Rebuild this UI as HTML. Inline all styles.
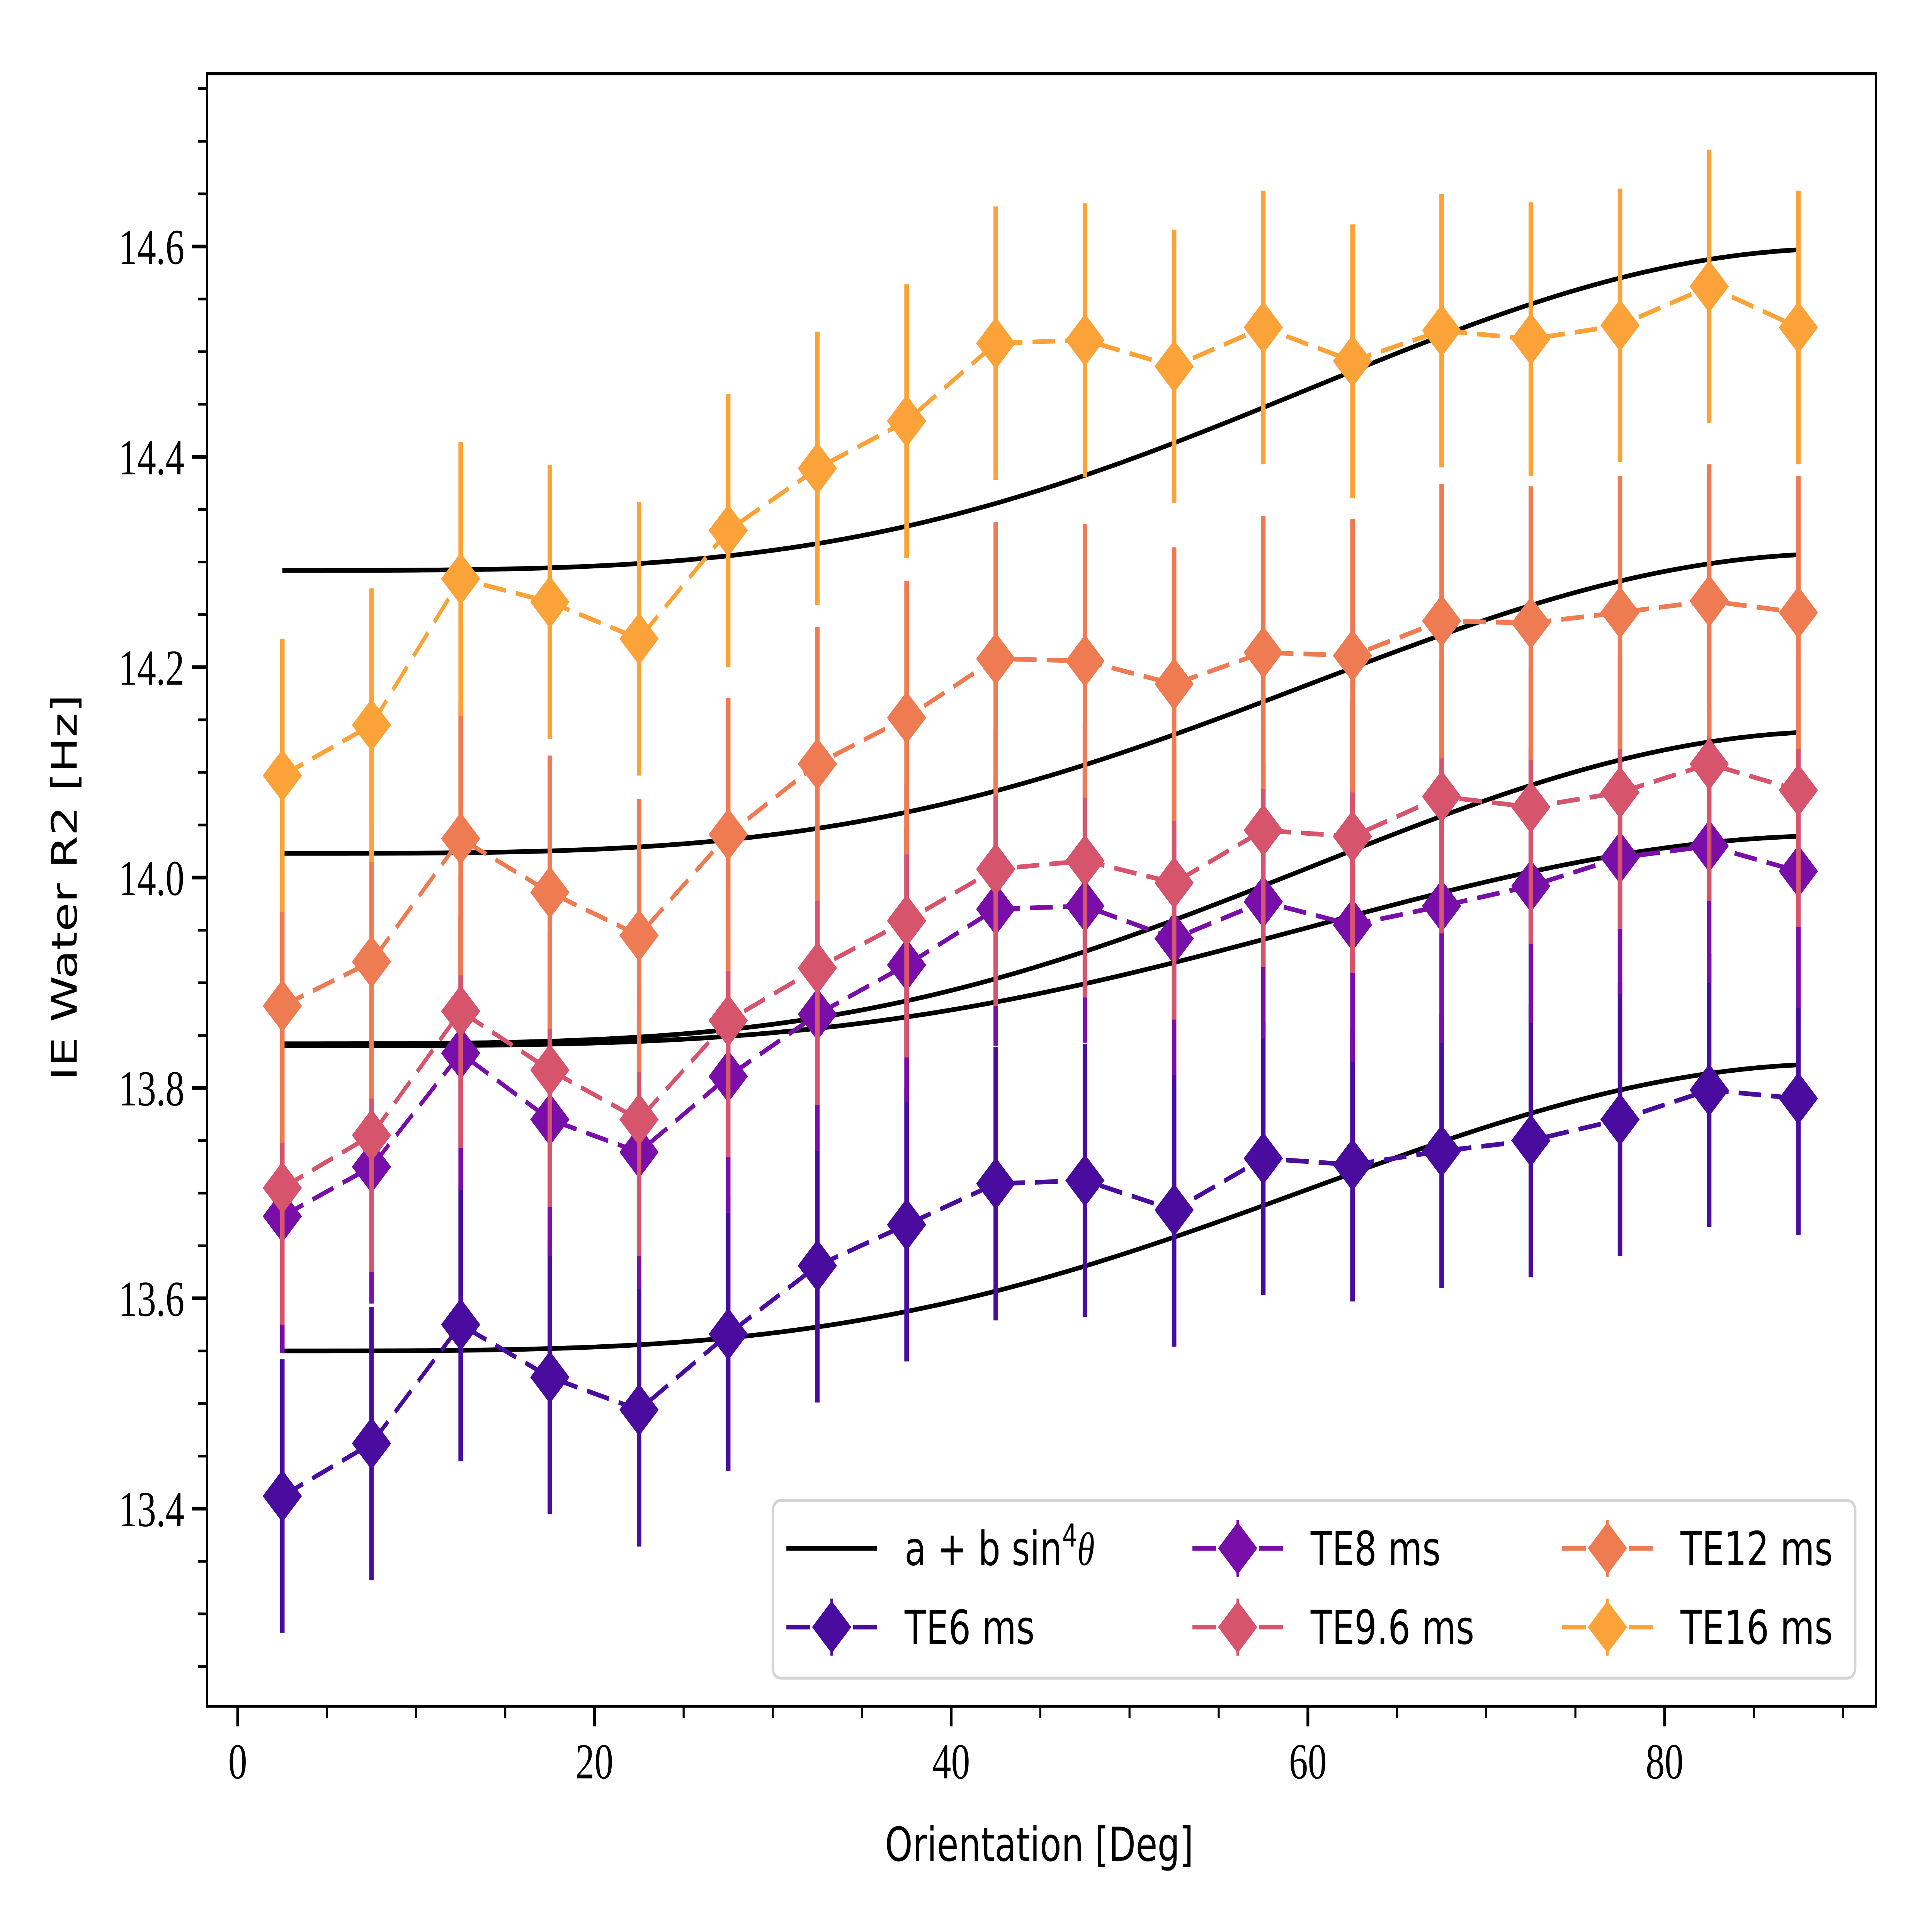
<!DOCTYPE html>
<html><head><meta charset="utf-8"><style>
html,body{margin:0;padding:0;background:#fff;overflow:hidden;width:100%;height:100%;}
svg{display:block;width:100vw;height:100vh;}
.tk{font-family:"Liberation Serif",serif;font-size:150px;fill:#000;}
.sn{font-family:"DejaVu Sans","Liberation Sans",sans-serif;fill:#000;}
</style></head><body>
<svg id="chart" xmlns="http://www.w3.org/2000/svg" viewBox="0 0 7680 5760" preserveAspectRatio="none">
<rect width="7680" height="5760" fill="#fff"/>
<g id="fits"></g>
<g id="series"></g>
<g id="axes"></g>
<g id="legend"></g>
</svg>
<script>
const xCats = [2.5,7.5,12.5,17.5,22.5,27.5,32.5,37.5,42.5,47.5,52.5,57.5,62.5,67.5,72.5,77.5,82.5,87.5];
const te6 = [13.412,13.462,13.575,13.525,13.494,13.566,13.631,13.670,13.709,13.712,13.684,13.733,13.727,13.740,13.750,13.770,13.798,13.790];
const te8 = [13.678,13.725,13.833,13.770,13.739,13.811,13.870,13.917,13.970,13.973,13.942,13.977,13.955,13.973,13.992,14.019,14.030,14.006];
const te96 = [13.705,13.755,13.873,13.817,13.770,13.864,13.914,13.959,14.008,14.016,13.995,14.045,14.039,14.077,14.067,14.081,14.108,14.083];
const te12 = [13.878,13.920,14.037,13.986,13.945,14.041,14.108,14.152,14.208,14.206,14.184,14.214,14.211,14.244,14.242,14.252,14.263,14.252];
const te16 = [14.097,14.145,14.284,14.262,14.227,14.330,14.389,14.434,14.508,14.511,14.486,14.523,14.491,14.520,14.512,14.525,14.562,14.523];
const errs = [0.13,0.13,0.13,0.13,0.13];
const fitA = [13.550,13.840,13.842,14.023,14.292];
const fitB = [0.273,0.200,0.297,0.285,0.306];
const seriesNames = ["TE6 ms","TE8 ms","TE9.6 ms","TE12 ms","TE16 ms"];
const xTicks = [0,20,40,60,80];
const yTicks = [13.4,13.6,13.8,14.0,14.2,14.4,14.6];

const colors = ["#4a0c9e","#7a0ea8","#d6556d","#ee7b51","#fba238"];
const allSeries = [te6,te8,te96,te12,te16];
const NS = "http://www.w3.org/2000/svg";
const L=823,R=7457,T=220,B=5087;
function xs(v){return 945 + v*70.9;}
function ys(v){return 4498 - (v-13.4)*3136;}
function mk(tag, attrs, parent){const e=document.createElementNS(NS,tag);for(const k in attrs)e.setAttribute(k,attrs[k]);parent.appendChild(e);return e;}

const fitsG=document.getElementById('fits');
for(let s=0;s<5;s++){
  let d="";
  for(let i=0;i<=170;i++){const th=2.5+i*0.5;const v=fitA[s]+fitB[s]*Math.pow(Math.sin(th*Math.PI/180),4);d+=(i?"L":"M")+xs(th).toFixed(1)+","+ys(v).toFixed(1);}
  const p=mk('path',{d:d,fill:"none",stroke:"#000","stroke-width":14},fitsG);
  
  
}
const serG=document.getElementById('series');
for(let s=0;s<5;s++){
  const g=mk('g',{},serG);
  
  
  const vals=allSeries[s];
  for(let i=0;i<xCats.length;i++){
    const eb=mk('line',{x1:xs(xCats[i]),x2:xs(xCats[i]),y1:ys(vals[i]-errs[s]),y2:ys(vals[i]+errs[s]),stroke:colors[s],"stroke-width":18},g);
    
    
  }
  let d="";
  for(let i=0;i<xCats.length;i++){d+=(i?"L":"M")+xs(xCats[i]).toFixed(1)+","+ys(vals[i]).toFixed(1);}
  const ln=mk('path',{d:d,fill:"none",stroke:colors[s],"stroke-width":14,"stroke-dasharray":"90 40"},g);
  
  
  for(let i=0;i<xCats.length;i++){
    const cx=xs(xCats[i]),cy=ys(vals[i]),h=78;
    const m=mk('path',{d:`M${cx},${cy-h}L${cx+h},${cy}L${cx},${cy+h}L${cx-h},${cy}Z`,fill:colors[s]},g);
    
    
  }
}
const ax=document.getElementById('axes');
const fr=mk('rect',{x:L,y:T,width:R-L,height:B-T,fill:"none",stroke:"#000","stroke-width":9},ax);


for(let v=0;v<=90;v+=5){
  const major=v%20===0;const x=xs(v);
  mk('line',{x1:x,x2:x,y1:B,y2:B+(major?60:36),stroke:"#000","stroke-width":major?11:8},ax);
}
for(const v of xTicks){
  const t=mk('text',{x:xs(v),y:B+215,"text-anchor":"middle",class:"tk"},ax);t.textContent=String(v);
  
  
}
for(let k=0;k<=30;k++){
  const v=13.25+k*0.05;const y=ys(v);if(y<T||y>B)continue;
  const major=Math.abs(((v-13.4)/0.2)-Math.round((v-13.4)/0.2))<1e-6;
  mk('line',{x1:L-(major?60:36),x2:L,y1:y,y2:y,stroke:"#000","stroke-width":major?11:8},ax);
}
for(const v of yTicks){
  const t=mk('text',{x:L-90,y:ys(v)+52,"text-anchor":"end",class:"tk"},ax);t.textContent=v.toFixed(1);
  
  
}
const xl=mk('text',{x:4131,y:5548,"text-anchor":"middle",class:"sn","font-size":140},ax);xl.textContent="Orientation [Deg]";


const yl=mk('text',{x:0,y:0,"text-anchor":"middle",class:"sn","font-size":140,transform:"translate(305,2646) rotate(-90)"},ax);yl.textContent="IE Water R2 [Hz]";



const lg=document.getElementById('legend');
const box=mk('rect',{x:3072,y:4474,width:4303,height:529,rx:30,fill:"#fff","fill-opacity":0.85,stroke:"#d4d4d4","stroke-width":9},lg);


function entry(hx,ty,label,color,isFit){
  const g=mk('g',{},lg);
  
  
  if(isFit){mk('line',{x1:hx,x2:hx+360,y1:ty,y2:ty,stroke:"#000","stroke-width":14},g);}
  else{
    mk('line',{x1:hx,x2:hx+95,y1:ty,y2:ty,stroke:color,"stroke-width":14},g);
    mk('line',{x1:hx+265,x2:hx+360,y1:ty,y2:ty,stroke:color,"stroke-width":14},g);
    mk('line',{x1:hx+180,x2:hx+180,y1:ty-85,y2:ty+85,stroke:color,"stroke-width":10},g);
    const c=hx+180;mk('path',{d:`M${c},${ty-78}L${c+78},${ty}L${c},${ty+78}L${c-78},${ty}Z`,fill:color},g);
  }
  const t=mk('text',{x:hx+470,y:ty+50,class:"sn","font-size":140},g);
  if(isFit){t.innerHTML='a + b sin<tspan font-size="95" dy="-55">4</tspan><tspan dy="55" font-family="Liberation Serif" font-style="italic">θ</tspan>';}
  else t.textContent=label;
}
entry(3126,4616,"",null,true);
entry(4740,4616,seriesNames[1],colors[1]);
entry(6210,4616,seriesNames[3],colors[3]);
entry(3126,4851,seriesNames[0],colors[0]);
entry(4740,4851,seriesNames[2],colors[2]);
entry(6210,4851,seriesNames[4],colors[4]);
</script>
</body></html>
